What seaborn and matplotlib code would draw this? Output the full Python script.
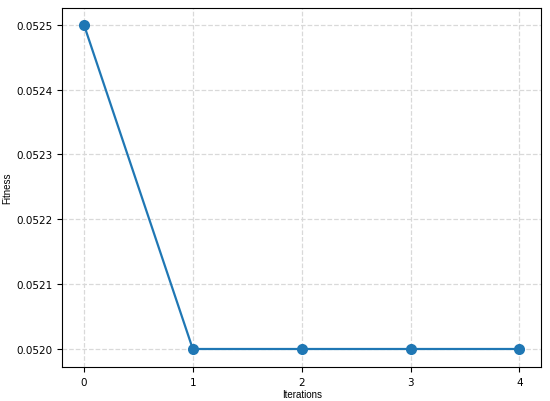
import pandas as pd
import matplotlib
matplotlib.use('Agg')
import matplotlib.pyplot as plt
import seaborn as sns

# Data
iterations = [0, 1, 2, 3, 4]
fitness = [0.0525, 0.0520, 0.0520, 0.0520, 0.0520]

df = pd.DataFrame({'Iterations': iterations, 'Fitness': fitness})

fig, ax = plt.subplots(figsize=(5.5, 4.02), dpi=100)
fig.subplots_adjust(left=0.113, right=0.984, top=0.978, bottom=0.085)

sns.lineplot(data=df, x='Iterations', y='Fitness', marker='o', markersize=8,
             color='#1f77b4', linewidth=1.6, markeredgewidth=0, ax=ax)

ax.set_xticks(iterations)
ax.set_yticks([0.0520, 0.0521, 0.0522, 0.0523, 0.0524, 0.0525])
ax.set_yticklabels(['0.0520', '0.0521', '0.0522', '0.0523', '0.0524', '0.0525'])
ax.tick_params(labelsize=7.5, length=3.5, width=0.8)
ax.grid(True, linestyle='--', color='#d9d9d9', linewidth=0.9)
ax.set_axisbelow(True)
ax.set_xlim(-0.2, 4.2)
ax.set_ylim(0.0519725, 0.052526)
ax.set_xlabel('Iterations', fontsize=7, family='Liberation Sans', labelpad=2)
ax.set_ylabel('Fitness', fontsize=7, family='Liberation Sans', labelpad=3)

plt.savefig('out.png', dpi=100)
